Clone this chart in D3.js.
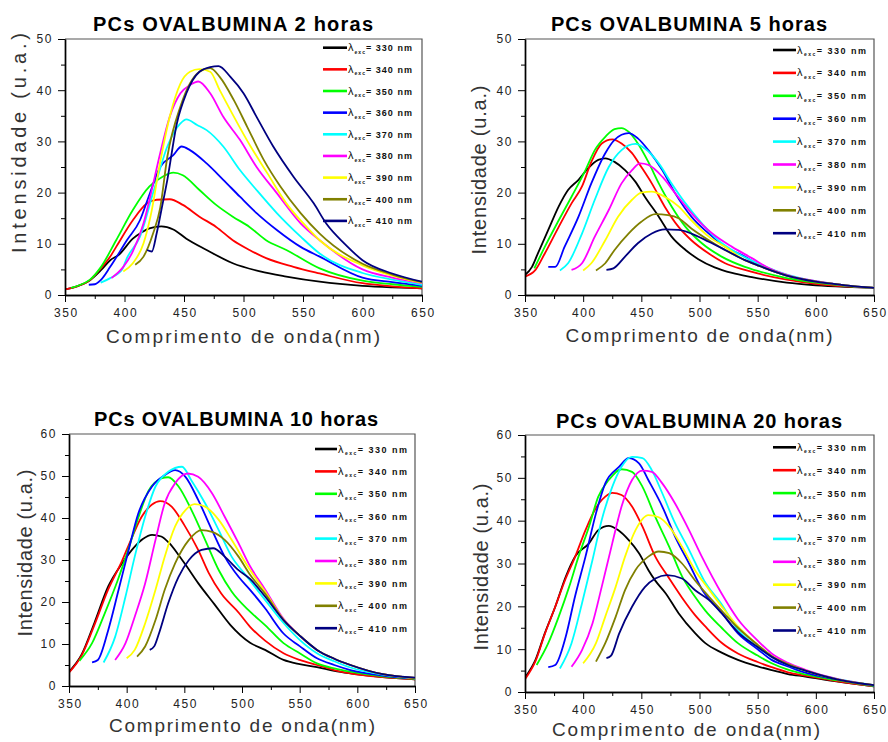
<!DOCTYPE html>
<html><head><meta charset="utf-8">
<script src="https://cdn.jsdelivr.net/npm/d3@7"></script>
<style>
body{margin:0;background:#fff}
svg{display:block}
text{font-family:"Liberation Sans",Arial,Helvetica,sans-serif}
</style>
</head><body>
<svg id="chart" width="888" height="742"></svg>
<script>
// ---------------- data ----------------
const titles = ["PCs OVALBUMINA 2 horas","PCs OVALBUMINA 5 horas","PCs OVALBUMINA 10 horas","PCs OVALBUMINA 20 horas"];
const excitation = [330,340,350,360,370,380,390,400,410];
const yMaxima = [50,50,60,60];
const xTicks = [350,400,450,500,550,600,650];
const xLabel = "Comprimento de onda(nm)";
const yLabel = "Intensidade (u.a.)";

// 2 horas : [wavelength nm, intensity]
const h2 = [
 [[350,1.1],[360,1.7],[371,2.9],[380,4.8],[388,6.8],[395,7.8],[407,11],[415,12.3],[421,13],[431,13.4],[441,12.8],[452,11],[469,8.8],[491,6.2],[514,4.6],[536,3.6],[564,2.6],[600,1.8],[625,1.5],[650,1.3]],
 [[350,1.1],[360,1.7],[371,2.9],[379,4.9],[388,7.5],[393,9.4],[407,14.6],[419,17.9],[427,18.6],[438,18.7],[449,17.6],[463,15.3],[477,13.3],[491,10.7],[505,8.8],[519,7.2],[542,5.5],[564,4.2],[600,2.3],[625,1.7],[650,1.3]],
 [[355,1.4],[362,1.9],[371,3],[380,5.4],[393,10.7],[407,16.6],[421,21.2],[432,23.1],[441,23.9],[449,23.4],[463,20.5],[477,17.6],[491,15.3],[505,13.3],[519,10.7],[536,8.8],[564,5.2],[600,2.8],[625,2.1],[650,1.6]],
 [[370,2],[375,2.1],[380,2.9],[388,5.5],[402,10.7],[413,14.6],[420,19],[430,25],[441,27.3],[448,29],[455,28.3],[469,25.7],[483,22.5],[497,19.2],[511,16],[528,12.7],[548,9.4],[564,7.5],[600,3.4],[625,2.5],[650,1.8]],
 [[380,2.4],[388,3.3],[398,5],[402,7.2],[413,11.4],[424,19.9],[436,29],[447,33.5],[452,34.3],[461,33.2],[469,32.2],[483,29],[497,24.4],[511,20.5],[528,16],[548,11.4],[564,8.1],[600,4.3],[625,3],[650,2]],
 [[389,3.3],[399,5.5],[407,8.5],[416,14],[421,18.6],[430,27.7],[438,34.8],[447,39.4],[455,41],[462,41.7],[472,39.4],[483,34.8],[497,30.3],[511,25],[528,19.9],[548,14],[564,10.7],[600,5],[625,3.4],[650,2.3]],
 [[399,4.6],[407,6.2],[416,10.1],[422,15.5],[430,26],[438,34.8],[447,41.3],[455,43.6],[463,44.1],[472,43.6],[480,40],[492,34.8],[506,29],[520,23.8],[536,17.9],[553,13.3],[564,10.7],[600,5.8],[625,3.8],[650,2.4]],
 [[409,5.9],[416,7.5],[424,12],[430,17],[436,27],[447,36.8],[455,41.3],[463,43.6],[472,44.3],[480,42.6],[492,38],[503,32.9],[517,26.4],[531,21.2],[548,16],[564,12],[600,6.1],[625,4],[650,2.5]],
 [[419,8.8],[423,8.5],[427,12],[431,16.6],[436,22.5],[444,33.5],[452,39.4],[463,43.6],[472,44.5],[479,44.7],[489,42.6],[500,39.4],[511,34.8],[525,29],[542,23.1],[559,17.9],[570,13.8],[585,10],[600,6.8],[625,4.2],[650,2.6]]
];

// 5 horas
const h5 = [
 [[350,3.9],[356,5.5],[361,8.1],[370,12.7],[379,17.3],[387,20.5],[396,22.5],[404,24.7],[413,26.4],[419,26.7],[427,26],[436,24.4],[445,22.1],[453,19.2],[465,15.3],[476,11.4],[488,8.8],[499,7],[513,5.4],[528,4.3],[545,3.5],[575,2.4],[600,1.9],[625,1.6],[650,1.4]],
 [[350,3.6],[359,4.9],[367,8.1],[379,13.3],[390,17.9],[399,21.2],[407,26],[416,29.6],[425,30.4],[433,29.6],[442,27.7],[450,25],[459,21.8],[470,17.3],[482,13.3],[493,10.7],[508,8.1],[522,6.2],[539,4.9],[550,4.2],[575,3],[600,2.2],[625,1.7],[650,1.4]],
 [[358,5.2],[367,9.4],[379,14.6],[390,19.2],[402,24.4],[410,28.3],[419,30.9],[427,32.4],[433,32.6],[439,31.9],[447,29.6],[456,26],[465,21.8],[476,17.3],[488,13.3],[502,10.1],[519,7.5],[539,5.5],[550,4.7],[575,3.3],[600,2.4],[625,1.8],[650,1.4]],
 [[370,5.5],[376,5.5],[384,9.4],[396,15.3],[407,21.8],[419,27.7],[427,30.3],[439,31.6],[447,30.6],[456,28.3],[468,24.4],[479,19.9],[493,15.3],[508,12],[522,9.4],[539,7.5],[550,6],[575,3.8],[600,2.6],[625,1.9],[650,1.4]],
 [[380,4.8],[387,6.2],[399,12],[410,18.6],[422,25],[433,28.3],[445,29.5],[453,28.6],[465,25.7],[476,21.8],[488,17.9],[502,14],[516,10.7],[533,8.1],[550,6.2],[575,4],[600,2.7],[625,1.9],[650,1.4]],
 [[390,4.9],[399,6.2],[410,11.4],[422,16.6],[433,21.8],[442,24.4],[449,25.7],[456,25.4],[468,23.1],[479,19.9],[493,16],[511,12],[528,9.4],[545,7.2],[560,5.2],[580,3.6],[600,2.7],[625,1.9],[650,1.4]],
 [[400,4.8],[407,6.2],[419,10.7],[430,15.3],[442,18.6],[450,20],[459,20.2],[470,19.2],[482,17.3],[493,14.6],[508,11.4],[522,9.4],[539,6.8],[550,5.8],[575,3.8],[600,2.6],[625,1.9],[650,1.4]],
 [[411,4.8],[419,6.2],[427,8.8],[439,12],[450,14.3],[462,15.8],[473,15.6],[482,15],[493,13],[508,10.7],[522,8.8],[539,6.8],[550,5.8],[575,3.8],[600,2.6],[625,1.9],[650,1.4]],
 [[420,4.9],[426,5.2],[436,7.5],[447,10.1],[459,12],[470,12.8],[482,12.7],[493,12],[508,10.4],[522,8.8],[539,6.8],[550,5.8],[575,3.8],[600,2.6],[625,1.9],[650,1.4]]
];

// 10 horas
const h10 = [
 [[350,3.4],[361,7.5],[372,15],[384,23.7],[396,29.2],[407,33.2],[414,35],[422,36],[430,35.6],[437,34],[445,31.2],[452,28.5],[462,24.5],[476,19.5],[490,14.5],[507,10.3],[520,8.6],[536,6.2],[550,5.2],[565,4.5],[580,3.6],[594,3],[622,2.1],[650,1.6]],
 [[350,3.2],[361,7.3],[372,14.5],[384,23],[396,29.8],[404,35],[413,40.3],[422,43.2],[429,44],[439,42.7],[450,38.3],[462,32.4],[471,27],[482,22],[497,17.5],[507,14.1],[520,10.8],[536,7.8],[550,6.2],[565,5],[580,3.8],[594,3],[622,2.1],[650,1.6]],
 [[359,6],[370,10.2],[381,17.3],[392,25],[402,33],[410,40],[419,46.5],[430,49.4],[436,49.7],[445,47.5],[456,42],[468,34.8],[480,27.5],[491,22.5],[507,17.7],[520,14.5],[536,10.2],[550,7.8],[565,5.4],[580,4.2],[594,3.4],[622,2.3],[650,1.7]],
 [[370,5.6],[375,6.2],[384,13.3],[393,22.9],[401,31.6],[410,41],[422,47.5],[433,50.2],[442,51.4],[451,49.8],[462,44.3],[474,37.1],[485,30.8],[497,26],[507,22.9],[520,18.5],[536,12.5],[550,9.5],[565,6.6],[580,5],[594,3.8],[622,2.5],[650,1.8]],
 [[380,5.6],[390,11.7],[399,21.3],[407,30.8],[416,40.3],[425,47.5],[436,51],[448,52.2],[456,49],[468,43.5],[480,37],[491,30.8],[503,26.5],[520,20.5],[536,15],[550,11],[565,7.8],[580,5.9],[594,4.4],[622,2.7],[650,1.8]],
 [[390,6.2],[399,10.2],[407,16.5],[416,24.4],[425,34.8],[433,43.5],[442,48.3],[453,50.6],[462,49.8],[474,45.9],[485,40.3],[497,34],[507,28.5],[520,23],[536,16],[550,12],[565,8.6],[580,6.5],[594,5],[622,2.8],[650,1.9]],
 [[400,6.6],[407,8.6],[416,14.9],[425,22.9],[433,30.8],[442,38],[451,41.9],[459,43.3],[468,42.7],[480,39.5],[491,34.8],[507,27.6],[520,22.5],[536,15.8],[550,12],[565,8.6],[580,6.5],[594,5],[622,2.8],[650,1.9]],
 [[409,7],[416,9.4],[425,15.7],[433,22.9],[442,29.2],[454,34.8],[465,37.1],[474,36.7],[485,34.8],[497,30.8],[507,26.5],[520,22],[536,15.7],[550,12],[565,8.6],[580,6.5],[594,5],[622,2.8],[650,1.9]],
 [[420,8.6],[424,9.5],[428,12.5],[436,19.7],[445,26],[454,30],[465,32.4],[475,32.8],[485,30.8],[497,27.6],[507,25.5],[520,21.3],[536,15.7],[550,12],[565,8.6],[580,6.5],[594,5],[622,2.8],[650,2]]
];

// 20 horas
const h20 = [
 [[350,3.4],[359,7.5],[367,13.7],[376,19.9],[385,26.9],[393,31.6],[405,34.7],[413,37.8],[422,38.8],[430,37.8],[439,35.5],[448,32.4],[456,28.5],[462,26],[471,23],[482,18.4],[496,13.8],[505,11.4],[519,9.2],[533,7.5],[550,6],[562,5.1],[576,4.2],[591,3.6],[619,2.4],[650,1.3]],
 [[350,3],[359,7.2],[367,13.5],[376,19.9],[385,26.5],[393,31.5],[402,37.8],[410,42.5],[419,45.6],[425,46.5],[433,46],[442,43.3],[451,38.6],[462,31.6],[473,26.9],[485,22],[496,18],[505,15.3],[519,11.5],[533,9],[550,7],[562,5.8],[576,4.6],[591,3.8],[619,2.5],[650,1.3]],
 [[360,6.3],[370,11.4],[379,17.6],[388,24.6],[396,31.6],[405,38.6],[413,45.6],[422,49.5],[433,52],[442,51.4],[451,47.9],[462,40.9],[474,33.9],[485,27],[496,22.3],[505,19],[519,15],[533,11.4],[550,8.5],[562,6.7],[576,5.2],[591,4.1],[619,2.7],[650,1.4]],
 [[370,5.8],[376,6.3],[385,12.9],[393,22.3],[402,31.6],[411,41.7],[419,48.7],[431,52.6],[439,54.6],[448,53.4],[456,49.5],[468,43.3],[479,36.3],[491,30],[502,24],[519,18.5],[533,13.7],[550,10],[562,7.5],[576,6],[591,4.5],[619,2.9],[650,1.5]],
 [[380,5.5],[390,11.4],[399,20.7],[408,30.8],[416,40.2],[425,47.9],[433,52.6],[442,54.9],[451,54.6],[459,51.8],[468,46.4],[479,39.4],[491,33.2],[504,26],[519,20.5],[533,14.5],[550,10.5],[562,8.2],[576,6.3],[591,5],[619,3],[650,1.6]],
 [[390,5.9],[399,9.8],[408,16],[416,24.6],[425,34.7],[433,43.3],[442,49.5],[451,51.7],[459,51.4],[468,48.7],[479,44],[491,37.8],[502,31.6],[519,23],[533,17],[550,12],[562,9],[576,6.8],[591,5.2],[619,3],[650,1.6]],
 [[400,6.7],[411,11.4],[419,17.6],[428,24.6],[436,31.6],[445,37.8],[456,41.3],[465,40.8],[474,38.6],[485,33.9],[496,28.5],[508,24],[519,20],[533,15.3],[550,11],[562,8.4],[576,6.5],[591,5],[619,2.9],[650,1.6]],
 [[411,7.1],[419,11.4],[428,17.6],[436,23.8],[445,28.5],[456,31.6],[465,32.8],[474,32.4],[485,30],[496,26.1],[508,22.3],[519,19],[533,15],[550,11],[562,8.4],[576,6.5],[591,5],[619,2.9],[650,1.6]],
 [[420,7.9],[424,8.5],[431,13.7],[442,19.9],[453,24.5],[462,26.5],[472,27.3],[485,26.5],[496,23.8],[508,21.5],[519,18.4],[533,14],[550,10.5],[562,8.2],[576,6.3],[591,5],[619,2.9],[650,1.6]]
];

const datasets = [h2, h5, h10, h20];

// ---------------- styles / layout ----------------
const colors = ["#000000","#ff0000","#00ff00","#0000ff","#00ffff","#ff00ff","#ffff00","#808000","#000080"];
const layout = [
  {l:65, r:422, t:39, b:295, title:[233,31,280], xl:[243,343,274], yl:[26,143,220], leg:{x0:323,x1:347,y0:47.7,dy:21.65,tl:64}},
  {l:525,r:874, t:39, b:295, title:[689,31,276], xl:[699,342,267], yl:[486,170,169], leg:{x0:773,x1:796,y0:50,dy:22.9,tl:69}},
  {l:69, r:415, t:434,b:686, title:[236,426,284], xl:[242,732,266], yl:[32,553,167], leg:{x0:315,x1:337,y0:449,dy:22.4,tl:69}},
  {l:525,r:874, t:435,b:692, title:[699,428,286], xl:[686,736,268], yl:[488,567,167], leg:{x0:773,x1:796,y0:447.3,dy:22.9,tl:69}}
];

const svg = d3.select("#chart");

datasets.forEach((series, p) => {
  const L = layout[p];
  const yMax = yMaxima[p];
  const x = d3.scaleLinear().domain([xTicks[0], xTicks[xTicks.length-1]]).range([L.l, L.r]);
  const y = d3.scaleLinear().domain([0, yMax]).range([L.b, L.t]);
  const g = svg.append("g");

  const clipId = "clip" + p;
  svg.append("clipPath").attr("id", clipId).append("rect")
    .attr("x", L.l).attr("y", L.t).attr("width", L.r - L.l).attr("height", L.b - L.t);

  // frame (top and right)
  g.append("path").attr("d", `M${L.l},${L.t}H${L.r}V${L.b}`)
    .attr("fill", "none").attr("stroke", "#555").attr("stroke-width", 1.2);

  // curves
  const line = d3.line().x(d => x(d[0])).y(d => y(d[1])).curve(d3.curveMonotoneX);
  const cg = g.append("g").attr("clip-path", `url(#${clipId})`);
  series.forEach((s, i) => {
    cg.append("path").datum(s).attr("d", line)
      .attr("fill", "none").attr("stroke", colors[i])
      .attr("stroke-width", 1.8).attr("stroke-linejoin", "round");
  });

  // axes
  const styleAxis = sel => {
    sel.selectAll("path.domain").attr("stroke", "#000").attr("stroke-width", 1.4);
    sel.selectAll(".tick line").attr("stroke", "#000").attr("stroke-width", 1);
    sel.selectAll(".tick text").attr("font-size", 12).attr("fill", "#222")
      .style("letter-spacing", "1.6px").attr("font-family", '"Liberation Sans",Arial,sans-serif');
  };
  const yMinor = d3.range(5, yMax, 10);
  g.append("g").attr("transform", `translate(${L.l},0)`)
    .call(d3.axisLeft(y).tickValues(yMinor).tickSize(4).tickFormat("").tickSizeOuter(0))
    .call(styleAxis);
  g.append("g").attr("transform", `translate(${L.l},0)`)
    .call(d3.axisLeft(y).tickValues(d3.range(0, yMax + 1, 10)).tickSize(7).tickPadding(5).tickSizeOuter(0))
    .call(styleAxis);
  const xMinor = d3.range(375, 650, 50);
  g.append("g").attr("transform", `translate(0,${L.b})`)
    .call(d3.axisBottom(x).tickValues(xMinor).tickSize(4).tickFormat("").tickSizeOuter(0))
    .call(styleAxis);
  g.append("g").attr("transform", `translate(0,${L.b})`)
    .call(d3.axisBottom(x).tickValues(xTicks).tickSize(7).tickPadding(6).tickSizeOuter(0))
    .call(styleAxis)
    .call(sel => sel.selectAll(".tick text").attr("dx", "0.8px"));

  // title
  g.append("text").attr("x", L.title[0]).attr("y", L.title[1])
    .attr("text-anchor", "middle").attr("font-size", 20).attr("font-weight", "bold")
    .attr("fill", "#000").attr("textLength", L.title[2]).attr("lengthAdjust", "spacing")
    .text(titles[p]);

  // x label
  g.append("text").attr("x", L.xl[0]).attr("y", L.xl[1])
    .attr("text-anchor", "middle").attr("font-size", 19).attr("fill", "#333")
    .attr("textLength", L.xl[2]).attr("lengthAdjust", "spacing")
    .text(xLabel);

  // y label
  g.append("text").attr("transform", `translate(${L.yl[0]},${L.yl[1]}) rotate(-90)`)
    .attr("text-anchor", "middle").attr("font-size", 20).attr("fill", "#333")
    .attr("textLength", L.yl[2]).attr("lengthAdjust", "spacing")
    .text(yLabel);

  // legend
  const lg = g.append("g");
  excitation.forEach((ex, i) => {
    const yy = L.leg.y0 + i * L.leg.dy;
    lg.append("line").attr("x1", L.leg.x0).attr("x2", L.leg.x1)
      .attr("y1", yy).attr("y2", yy).attr("stroke", colors[i]).attr("stroke-width", 2.6);
    const t = lg.append("text").attr("x", L.leg.x1 + 1).attr("y", yy + 3.5)
      .attr("font-size", 9).attr("font-weight", "bold").attr("fill", "#111")
      .attr("textLength", L.leg.tl).attr("lengthAdjust", "spacing");
    t.append("tspan").attr("font-size", 11).attr("font-weight", "normal").text("λ");
    t.append("tspan").attr("font-size", 5).attr("dy", 2.5).text("exc");
    t.append("tspan").attr("dy", -2.5).text("= " + ex + " nm");
  });
});
</script>
</body></html>
